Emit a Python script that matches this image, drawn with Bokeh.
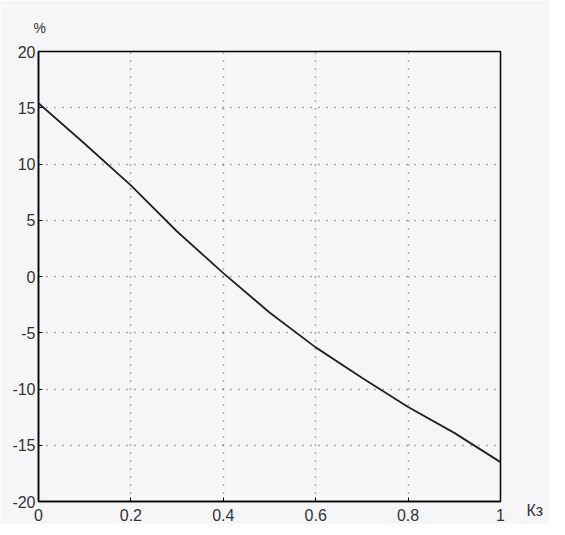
from bokeh.plotting import figure
from bokeh.models import FixedTicker, LinearAxis, Range1d
from bokeh.embed import file_html
from bokeh.resources import INLINE

# data
kz = [0.0, 0.1, 0.2, 0.3, 0.4, 0.5, 0.6, 0.7, 0.8, 0.9, 1.0]
pct = [15.4, 11.8, 8.1, 4.0, 0.3, -3.2, -6.3, -9.0, -11.6, -13.9, -16.5]
x_ticks = [0, 0.2, 0.4, 0.6, 0.8, 1]
x_tick_labels = ["0", "0.2", "0.4", "0.6", "0.8", "1"]
y_ticks = [-20, -15, -10, -5, 0, 5, 10, 15, 20]
y_tick_labels = ["-20", "-15", "-10", "-5", "0", "5", "10", "15", "20"]
y_unit = "%"
x_name = "Кз"

bg = "#f6f6f9"
font = "Liberation Sans"
tcol = "#333333"

p = figure(width=549, height=524, output_backend="svg", toolbar_location=None,
           x_range=Range1d(0, 1), y_range=Range1d(-20, 20),
           min_border_left=38, min_border_right=49, min_border_top=51, min_border_bottom=23,
           background_fill_color=bg, border_fill_color=bg, title=y_unit)

p.title.align = "left"
p.title.offset = -5
p.title.standoff = 32
p.title.text_font = font
p.title.text_font_size = "14px"
p.title.text_font_style = "normal"
p.title.text_color = tcol

p.outline_line_color = "black"
p.outline_line_width = 1.5

p.line(kz, pct, line_color="#222222", line_width=1.8)

for ax in (p.xaxis[0], p.yaxis[0]):
    ax.axis_line_color = "black"
    ax.axis_line_width = 1.5
    ax.major_tick_in = 4
    ax.major_tick_out = 0
    ax.minor_tick_line_color = None
    ax.major_label_text_font = font
    ax.major_label_text_font_size = "16px"
    ax.major_label_text_color = tcol

p.xaxis[0].ticker = FixedTicker(ticks=x_ticks)
p.xaxis[0].major_label_overrides = {t: l for t, l in zip(x_ticks, x_tick_labels)}
p.xaxis[0].major_label_standoff = 7
p.yaxis[0].ticker = FixedTicker(ticks=y_ticks)
p.yaxis[0].major_label_overrides = {t: l for t, l in zip(y_ticks, y_tick_labels)}
p.yaxis[0].major_label_standoff = 3

# x-axis name placed at the lower right, beside the last tick label
name_axis = LinearAxis(ticker=FixedTicker(ticks=[y_ticks[0]]),
                       major_label_overrides={y_ticks[0]: "\n\n" + x_name})
name_axis.axis_line_color = None
name_axis.major_tick_line_color = None
name_axis.minor_tick_line_color = None
name_axis.major_label_standoff = 20
name_axis.major_label_text_font = font
name_axis.major_label_text_font_size = "16px"
name_axis.major_label_text_color = tcol
p.add_layout(name_axis, "right")

for g in (p.xgrid[0], p.ygrid[0]):
    g.grid_line_color = "#444444"
    g.grid_line_dash = "1 7"
    g.grid_line_width = 1.5
    g.grid_line_alpha = 0.8

open("out.html", "w").write(file_html(p, INLINE))
